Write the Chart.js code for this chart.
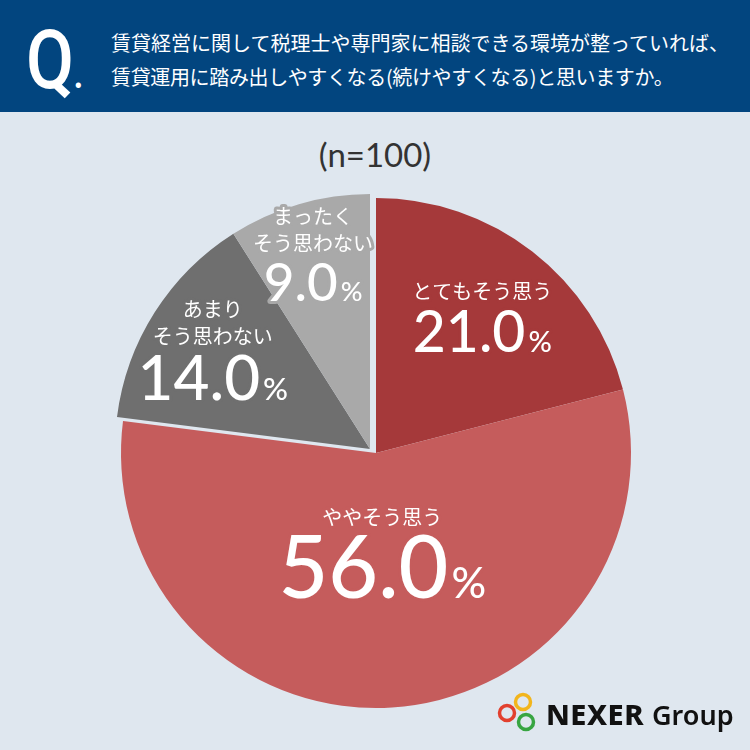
<!DOCTYPE html>
<html lang="ja">
<head>
<meta charset="utf-8">
<script src="https://cdn.jsdelivr.net/npm/chart.js@4.4.1/dist/chart.umd.min.js"></script>
<style>
  html, body { margin: 0; padding: 0; }
  body {
    width: 750px; height: 750px; position: relative; overflow: hidden;
    background: #dfe7ef;
    font-family: "Noto Sans CJK JP", "Noto Sans", sans-serif;
  }
  #head {
    position: absolute; left: 0; top: 0; width: 750px; height: 112px;
    background: #02457f;
  }
  #q {
    position: absolute; left: 26px; top: 19px;
    font-family: Roboto, sans-serif; font-weight: 500; font-size: 82px; line-height: 82px;
    color: #fff; transform: scaleX(0.85); transform-origin: left top;
  }
  #q span { font-size: 34px; font-weight: 900; }
  #question {
    position: absolute; left: 111px; top: 26px;
    font-size: 20px; line-height: 34px; color: #fff; white-space: nowrap;
  }
  #question .l2 { letter-spacing: -0.35px; }
  #n {
    position: absolute; left: 0; top: 134px; width: 750px; text-align: center;
    font-family: Lato, sans-serif; font-size: 33px; line-height: 40px; color: #333;
  }
  #chart { position: absolute; left: 0; top: 0; }
  #logo { position: absolute; left: 495px; top: 690px; }
  #logoText {
    position: absolute; left: 546px; top: 695px; white-space: nowrap;
    font-family: "Noto Sans", sans-serif; color: #111; line-height: 38px;
  }
  #logoText b { font-size: 29px; font-weight: 800; letter-spacing: 0.5px; }
  #logoText span { font-size: 27px; font-weight: 600; margin-left: 8px; }
</style>
</head>
<body>
<div id="head">
  <div id="q">Q<span>.</span></div>
  <div id="question">賃貸経営に関して税理士や専門家に相談できる環境が整っていれば、<br><span class="l2">賃貸運用に踏み出しやすくなる(続けやすくなる)と思いますか。</span></div>
</div>
<div id="n">(n=100)</div>
<canvas id="chart" width="750" height="750"></canvas>
<svg id="logo" width="46" height="46" viewBox="0 0 46 46">
  <circle cx="28" cy="12" r="7.5" fill="none" stroke="#f2b51c" stroke-width="3.5"/>
  <circle cx="12" cy="23" r="7.5" fill="none" stroke="#e2402e" stroke-width="3.5"/>
  <circle cx="31" cy="32" r="7.5" fill="none" stroke="#37a541" stroke-width="3.5"/>
</svg>
<div id="logoText"><b>NEXER</b><span>Group</span></div>

<script>
// answers, clockwise from 12 o'clock
const categories = ["とてもそう思う", "ややそう思う", "あまり\nそう思わない", "まったく\nそう思わない"];
const values = [21.0, 56.0, 14.0, 9.0];
const colors = ["#a5393a", "#c55c5c", "#6f6f6f", "#a9a9a9"];

// label placement (fraction of radius from centre) and size of the big number
const labelRadius = [0.68, 0.39, 0.73, 0.80];
const pctSize = [57, 86, 62, 53];
// the two "negative" slices are pulled out together
const pulledOut = [false, false, true, true];
const pullX = -6, pullY = -4;

const pullPlugin = {
  id: "pull",
  afterDatasetsUpdate(chart) {
    const meta = chart.getDatasetMeta(0);
    meta.data.forEach((arc, i) => {
      if (!pulledOut[i]) return;
      arc.x += pullX;
      arc.y += pullY;
    });
  }
};

const labelPlugin = {
  id: "sliceLabels",
  afterDatasetsDraw(chart) {
    const ctx = chart.ctx;
    const meta = chart.getDatasetMeta(0);
    ctx.save();
    ctx.lineJoin = "round";
    meta.data.forEach((arc, i) => {
      const p = arc.getProps(["x", "y", "startAngle", "endAngle", "outerRadius"]);
      const mid = (p.startAngle + p.endAngle) / 2;
      const ax = p.x + Math.cos(mid) * p.outerRadius * labelRadius[i];
      const ay = p.y + Math.sin(mid) * p.outerRadius * labelRadius[i];

      const lines = categories[i].split("\n");
      const size = pctSize[i];
      const capH = size * 0.72;
      const total = 11 + 27 * (lines.length - 1) + 19 + capH;
      const y0 = ay - total / 2 + 11;

      ctx.strokeStyle = colors[i];
      ctx.fillStyle = "#fff";
      ctx.textAlign = "center";
      ctx.textBaseline = "middle";
      ctx.font = '400 20px "Noto Sans CJK JP"';
      ctx.lineWidth = 6;
      lines.forEach((t, k) => {
        ctx.strokeText(t, ax, y0 + 27 * k);
        ctx.fillText(t, ax, y0 + 27 * k);
      });

      // number + smaller % sign
      const num = values[i].toFixed(1);
      const base = y0 + 27 * (lines.length - 1) + 19 + capH;
      ctx.textAlign = "left";
      ctx.textBaseline = "alphabetic";
      ctx.font = "500 " + size + "px Lato";
      const w1 = ctx.measureText(num).width;
      ctx.font = "500 " + Math.round(size * 0.5) + "px Lato";
      const w2 = ctx.measureText("%").width;
      const gap = 3;
      let x = ax - (w1 + gap + w2) / 2;
      ctx.font = "500 " + size + "px Lato";
      ctx.strokeText(num, x, base);
      ctx.fillText(num, x, base);
      x += w1 + gap;
      ctx.font = "500 " + Math.round(size * 0.5) + "px Lato";
      ctx.strokeText("%", x, base);
      ctx.fillText("%", x, base);
    });
    ctx.restore();
  }
};

new Chart(document.getElementById("chart"), {
  type: "pie",
  data: {
    labels: categories,
    datasets: [{
      data: values,
      backgroundColor: colors,
      borderWidth: 0
    }]
  },
  options: {
    responsive: false,
    animation: false,
    layout: { padding: { left: 121, right: 119, top: 198, bottom: 42 } },
    plugins: {
      legend: { display: false },
      tooltip: { enabled: false }
    }
  },
  plugins: [pullPlugin, labelPlugin]
});
</script>
</body>
</html>
